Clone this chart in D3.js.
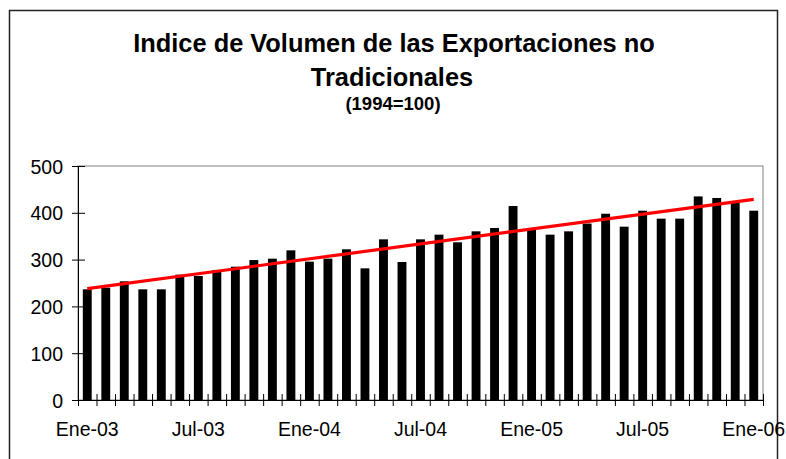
<!DOCTYPE html>
<html>
<head>
<meta charset="utf-8">
<script src="https://cdn.jsdelivr.net/npm/d3@7/dist/d3.min.js"></script>
<style>
  html, body { margin: 0; padding: 0; background: #fff; }
  svg { display: block; }
  text { font-family: "Liberation Sans", Arial, sans-serif; fill: #000; }
</style>
</head>
<body>
<svg id="chart" width="786" height="459"></svg>
<script>
// ---- data ----
const months = [
  "Ene-03","Feb-03","Mar-03","Abr-03","May-03","Jun-03","Jul-03","Ago-03","Sep-03","Oct-03","Nov-03","Dic-03",
  "Ene-04","Feb-04","Mar-04","Abr-04","May-04","Jun-04","Jul-04","Ago-04","Sep-04","Oct-04","Nov-04","Dic-04",
  "Ene-05","Feb-05","Mar-05","Abr-05","May-05","Jun-05","Jul-05","Ago-05","Sep-05","Oct-05","Nov-05","Dic-05",
  "Ene-06"
];
const volumeIndex = [
  236.5, 240, 253.6, 236.5, 236.5, 267.8, 265, 277.8, 284.9, 299, 302, 319.8,
  295.6, 302, 322, 281.3, 343.3, 294.9, 343.3, 353.3, 337, 360.4, 367.5, 414.5,
  367.5, 353.3, 360.4, 377, 398, 370.4, 404.5, 387.5, 387.5, 435, 431.6, 425,
  404.5
];
const labelMonths = ["Ene-03","Jul-03","Ene-04","Jul-04","Ene-05","Jul-05","Ene-06"];
const yTicks = [0, 100, 200, 300, 400, 500];
const titleLines = ["Indice de Volumen de las Exportaciones no", "Tradicionales"];
const subtitle = "(1994=100)";

// ---- layout ----
const svg = d3.select("#chart");
const plotL = 78, plotR = 763, plotT = 166, plotB = 400;

// outer chart border
svg.append("rect")
  .attr("x", 9.5).attr("y", 10.5).attr("width", 768).attr("height", 470)
  .attr("fill", "none").attr("stroke", "#222").attr("stroke-width", 1.5);

// titles
svg.append("text").attr("x", 394).attr("y", 51.5).attr("text-anchor", "middle")
  .attr("font-size", 25.4).attr("font-weight", "bold").text(titleLines[0]);
svg.append("text").attr("x", 392).attr("y", 86).attr("text-anchor", "middle")
  .attr("font-size", 25.4).attr("font-weight", "bold").text(titleLines[1]);
svg.append("text").attr("x", 393).attr("y", 110).attr("text-anchor", "middle")
  .attr("font-size", 18.5).attr("font-weight", "bold").text(subtitle);

// scales
const x = d3.scaleBand().domain(months).range([plotL, plotR])
  .paddingInner(0.52).paddingOuter(0.26);
const xEdge = d3.scaleLinear().domain([0, months.length]).range([plotL, plotR]);
const y = d3.scaleLinear().domain([0, 500]).range([plotB, plotT]);

// plot area border (gray)
svg.append("rect")
  .attr("x", plotL).attr("y", y(500)).attr("width", plotR - plotL).attr("height", plotB - y(500))
  .attr("fill", "none").attr("stroke", "#808080").attr("stroke-width", 1);

// bars
svg.append("g").selectAll("rect").data(volumeIndex).join("rect")
  .attr("x", (d, i) => x(months[i]))
  .attr("width", x.bandwidth())
  .attr("y", d => y(d))
  .attr("height", d => y(0) - y(d))
  .attr("fill", "#000");

// linear trend line (least squares over the series)
const n = volumeIndex.length;
const idx = d3.range(1, n + 1);
const mx = d3.mean(idx), my = d3.mean(volumeIndex);
const sxy = d3.sum(idx, (k, i) => (k - mx) * (volumeIndex[i] - my));
const sxx = d3.sum(idx, k => (k - mx) * (k - mx));
const slope = sxy / sxx, intercept = my - slope * mx;
const trend = [0, n - 1].map(i => ({ m: months[i], v: intercept + slope * (i + 1) }));
svg.append("path")
  .datum(trend)
  .attr("d", d3.line().x(d => x(d.m) + x.bandwidth() / 2).y(d => y(d.v)))
  .attr("fill", "none").attr("stroke", "#ff0000").attr("stroke-width", 3.2);

// y axis
const yAxis = svg.append("g").attr("transform", `translate(${plotL},0)`)
  .call(d3.axisLeft(y).tickValues(yTicks).tickSize(6).tickPadding(9).tickFormat(d3.format("d")));
yAxis.select(".domain").attr("stroke", "#000");
yAxis.selectAll(".tick line").attr("x1", 7).attr("stroke", "#000");
yAxis.selectAll(".tick text").attr("font-size", 19.5)
  .attr("font-family", "'Liberation Sans', Arial, sans-serif").attr("dy", "0.36em");

// x axis: boundary tick marks
const xTicks = svg.append("g").attr("transform", `translate(0,${plotB})`)
  .call(d3.axisBottom(xEdge).tickValues(d3.range(0, months.length + 1)).tickSize(6).tickFormat(""));
xTicks.select(".domain").attr("stroke", "#000");
xTicks.selectAll(".tick line").attr("y1", -6).attr("stroke", "#000");

// x axis labels
const xLab = svg.append("g").attr("transform", `translate(0,${plotB})`)
  .call(d3.axisBottom(x).tickValues(labelMonths).tickSize(0).tickPadding(22));
xLab.select(".domain").remove();
xLab.selectAll(".tick text").attr("font-size", 19.5)
  .attr("font-family", "'Liberation Sans', Arial, sans-serif");
</script>
</body>
</html>
